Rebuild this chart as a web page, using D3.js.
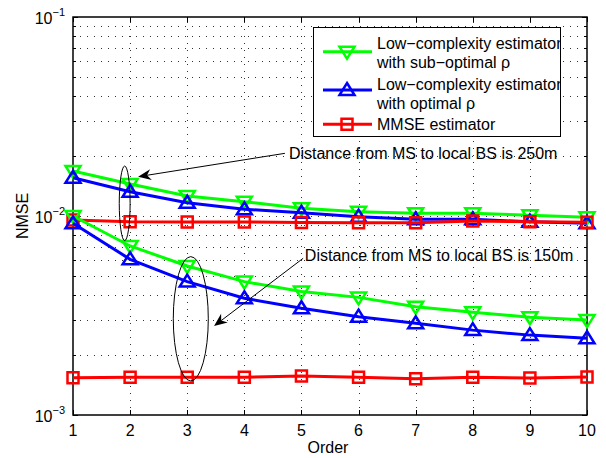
<!DOCTYPE html>
<html>
<head>
<meta charset="utf-8">
<script src="https://cdn.jsdelivr.net/npm/d3@7"></script>
<style>
  body { margin: 0; background: #fff; }
  svg { display: block; font-family: "Liberation Sans", Arial, sans-serif; }
</style>
</head>
<body>
<div id="chart"></div>
<script>
// data
let orders = [1, 2, 3, 4, 5, 6, 7, 8, 9, 10];

// 250m curves
let subOpt250 = [0.01683, 0.01448, 0.01260, 0.01180, 0.01093, 0.01051, 0.01032, 0.01032, 0.01008, 0.00985];
let opt250 = [0.01557, 0.01324, 0.01166, 0.01081, 0.01039, 0.00992, 0.00962, 0.00962, 0.00936, 0.00919];
let mmse250 = [0.00955, 0.00936, 0.00933, 0.00933, 0.00927, 0.00925, 0.00925, 0.00944, 0.00936, 0.00930];

// 150m curves
let subOpt150 = [0.01000, 0.00707, 0.00561, 0.00468, 0.00417, 0.00390, 0.00350, 0.00328, 0.00310, 0.00300];
let opt150 = [0.00919, 0.00606, 0.00468, 0.00386, 0.00344, 0.00312, 0.00289, 0.00267, 0.00252, 0.00243];
let mmse150 = [0.00154, 0.001546, 0.001546, 0.001546, 0.00157, 0.001546, 0.00152, 0.001546, 0.001535, 0.001552];

let xTicks = [1, 2, 3, 4, 5, 6, 7, 8, 9, 10];
let yDecades = [1e-3, 1e-2, 1e-1];
let yExponents = ["−3", "−2", "−1"];

let legendLabels = [
  ["Low−complexity estimator", "with sub−optimal ρ"],
  ["Low−complexity estimator", "with optimal ρ"],
  ["MMSE estimator"]
];

// annotations, in data units
let notes = [
  { text: "Distance from MS to local BS is 250m", tx: 4.78, ty: 0.0207,
    from: [4.71, 0.02065], to: [2.14, 0.01576],
    ex: [1.81, 2.0], ey: [0.00752, 0.01783] },
  { text: "Distance from MS to local BS is 150m", tx: 5.06, ty: 0.00637,
    from: [5.03, 0.00613], to: [3.47, 0.0028],
    ex: [2.756, 3.369], ey: [0.001483, 0.00625] }
];

let width = 606, height = 458;
let margin = { left: 73, right: 19, top: 17, bottom: 43 };
let fs = 16;

let svg = d3.select("#chart").append("svg")
  .attr("width", width)
  .attr("height", height);

let x = d3.scaleLinear().domain([1, 10]).range([margin.left, width - margin.right]);
let y = d3.scaleLog().domain([1e-3, 1e-1]).range([height - margin.bottom, margin.top]);

let x0 = x.range()[0], x1 = x.range()[1];
let yb = y.range()[0], yt = y.range()[1];

// minor log values
let minorVals = [];
[1e-3, 1e-2].forEach(function (d) {
  for (let k = 2; k <= 9; k++) minorVals.push(d * k);
});
let allY = yDecades.concat(minorVals);

// grid
let grid = svg.append("g").attr("stroke", "#333").attr("stroke-width", 1)
  .attr("stroke-dasharray", "1,6").attr("shape-rendering", "crispEdges");
grid.selectAll(".gx").data(xTicks.slice(1, -1)).enter().append("line")
  .attr("x1", d => Math.round(x(d)) + 0.5).attr("x2", d => Math.round(x(d)) + 0.5)
  .attr("y1", yb).attr("y2", yt);
grid.selectAll(".gy").data(allY.filter(d => d > 1e-3 && d < 1e-1)).enter().append("line")
  .attr("y1", d => Math.round(y(d)) + 0.5).attr("y2", d => Math.round(y(d)) + 0.5)
  .attr("x1", x0).attr("x2", x1);

// ticks on all four sides
let ticks = svg.append("g").attr("stroke", "#000").attr("stroke-width", 1).attr("shape-rendering", "crispEdges");
xTicks.forEach(function (d) {
  let px = Math.round(x(d)) + 0.5;
  ticks.append("line").attr("x1", px).attr("x2", px).attr("y1", yb).attr("y2", yb - 5);
  ticks.append("line").attr("x1", px).attr("x2", px).attr("y1", yt).attr("y2", yt + 5);
});
allY.forEach(function (d) {
  let py = Math.round(y(d)) + 0.5;
  let len = yDecades.indexOf(d) >= 0 ? 5 : 3;
  ticks.append("line").attr("y1", py).attr("y2", py).attr("x1", x0).attr("x2", x0 + len);
  ticks.append("line").attr("y1", py).attr("y2", py).attr("x1", x1).attr("x2", x1 - len);
});

// axes box
svg.append("rect")
  .attr("x", x0).attr("y", yt)
  .attr("width", x1 - x0).attr("height", yb - yt)
  .attr("fill", "none").attr("stroke", "#000").attr("stroke-width", 1.5);

// tick labels
svg.append("g").selectAll("text").data(xTicks).enter().append("text")
  .attr("x", d => x(d)).attr("y", yb + 21)
  .attr("text-anchor", "middle").attr("font-size", fs)
  .text(d => d);

let yl = svg.append("g").selectAll("text").data(yDecades).enter().append("text")
  .attr("x", x0 - 8).attr("y", d => y(d) + 7)
  .attr("text-anchor", "end").attr("font-size", fs);
yl.append("tspan").text("10");
yl.append("tspan").attr("dy", -8).attr("font-size", 11).text((d, i) => yExponents[i]);

// axis titles
svg.append("text").attr("x", (x0 + x1) / 2 - 2).attr("y", height - 5)
  .attr("text-anchor", "middle").attr("font-size", fs).text("Order");
svg.append("text")
  .attr("transform", "translate(28," + ((yt + yb) / 2) + ") rotate(-90)")
  .attr("text-anchor", "middle").attr("font-size", fs).text("NMSE");

// series
let series = [
  { vals: subOpt250, color: "#00ff00", marker: "down" },
  { vals: opt250, color: "#0000ff", marker: "up" },
  { vals: mmse250, color: "#ff0000", marker: "square" },
  { vals: subOpt150, color: "#00ff00", marker: "down" },
  { vals: opt150, color: "#0000ff", marker: "up" },
  { vals: mmse150, color: "#ff0000", marker: "square" }
];

let line = d3.line().x((d, i) => x(orders[i])).y(d => y(d));

function markerPath(kind) {
  if (kind === "up") return "M0,-7L7.5,5L-7.5,5Z";
  if (kind === "down") return "M0,7L7.5,-5L-7.5,-5Z";
  return "M-5.5,-5.5L5.5,-5.5L5.5,5.5L-5.5,5.5Z";
}

let plot = svg.append("g");
series.forEach(function (s) {
  plot.append("path").datum(s.vals)
    .attr("d", line).attr("fill", "none")
    .attr("stroke", s.color).attr("stroke-width", 3);
  plot.selectAll(null).data(s.vals).enter().append("path")
    .attr("transform", (d, i) => "translate(" + x(orders[i]) + "," + y(d) + ")")
    .attr("d", markerPath(s.marker))
    .attr("fill", "none").attr("stroke", s.color).attr("stroke-width", 2.5);
});

// annotations
let ann = svg.append("g");
notes.forEach(function (n) {
  let cx = (x(n.ex[0]) + x(n.ex[1])) / 2, cy = (y(n.ey[0]) + y(n.ey[1])) / 2;
  ann.append("ellipse")
    .attr("cx", cx).attr("cy", cy)
    .attr("rx", Math.abs(x(n.ex[1]) - x(n.ex[0])) / 2)
    .attr("ry", Math.abs(y(n.ey[0]) - y(n.ey[1])) / 2)
    .attr("fill", "none").attr("stroke", "#000").attr("stroke-width", 1);

  let fx = x(n.from[0]), fy = y(n.from[1]);
  let tx = x(n.to[0]), ty = y(n.to[1]);
  let ang = Math.atan2(ty - fy, tx - fx);
  let L = 13, W = 5.5, notch = 9;
  let ux = Math.cos(ang), uy = Math.sin(ang);
  let bx = tx - ux * L, by = ty - uy * L;
  let nx = tx - ux * notch, ny = ty - uy * notch;
  ann.append("line")
    .attr("x1", fx).attr("y1", fy).attr("x2", nx).attr("y2", ny)
    .attr("stroke", "#000").attr("stroke-width", 1);
  ann.append("path")
    .attr("d", "M" + tx + "," + ty +
      "L" + (bx - uy * W) + "," + (by + ux * W) +
      "L" + nx + "," + ny +
      "L" + (bx + uy * W) + "," + (by - ux * W) + "Z")
    .attr("fill", "#000");

  ann.append("text")
    .attr("x", x(n.tx)).attr("y", y(n.ty) + 6)
    .attr("font-size", fs).text(n.text);
});

// legend
let lg = svg.append("g");
lg.append("rect")
  .attr("x", 313.5).attr("y", 27.5).attr("width", 247).attr("height", 109)
  .attr("fill", "#fff").attr("stroke", "#000").attr("stroke-width", 1);

let legendRows = [
  { s: series[0], ly: 51.7, ty: [42.7, 61.7] },
  { s: series[1], ly: 90, ty: [84, 103] },
  { s: series[2], ly: 124.3, ty: [124.3] }
];
let lgClip = svg.append("defs").append("clipPath").attr("id", "lgclip");
lgClip.append("rect").attr("x", 313).attr("y", 27).attr("width", 247).attr("height", 110);

legendRows.forEach(function (r, i) {
  lg.append("line").attr("x1", 323).attr("x2", 372).attr("y1", r.ly).attr("y2", r.ly)
    .attr("stroke", r.s.color).attr("stroke-width", 3);
  lg.append("path").attr("transform", "translate(347," + r.ly + ")")
    .attr("d", markerPath(r.s.marker))
    .attr("fill", "none").attr("stroke", r.s.color).attr("stroke-width", 2.5);
  legendLabels[i].forEach(function (t, j) {
    lg.append("text").attr("x", 377).attr("y", r.ty[j] + 6)
      .attr("font-size", fs).attr("clip-path", "url(#lgclip)").text(t);
  });
});
</script>
</body>
</html>
